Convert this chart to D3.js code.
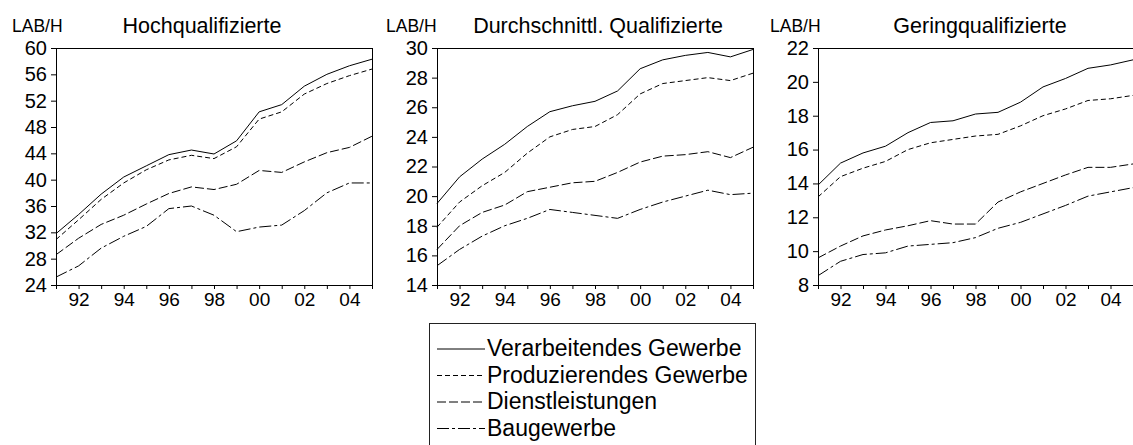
<!DOCTYPE html>
<html><head><meta charset="utf-8">
<script src="https://cdn.jsdelivr.net/npm/d3@7"></script>
<style>
body{margin:0;background:#fff}
svg{display:block}
text{font-family:"Liberation Sans",Arial,sans-serif;fill:#000}
</style>
</head><body>
<svg id="chart" width="1133" height="445"></svg>
<script>
// ---------- data ----------
const years = [1991,1992,1993,1994,1995,1996,1997,1998,1999,2000,2001,2002,2003,2004,2005];
const xTickLabels = {1992:"92",1994:"94",1996:"96",1998:"98",2000:"00",2002:"02",2004:"04"};
const seriesNames = ["Verarbeitendes Gewerbe","Produzierendes Gewerbe","Dienstleistungen","Baugewerbe"];
const panelTitles = ["Hochqualifizierte","Durchschnittl. Qualifizierte","Geringqualifizierte"];
const yAxisLabel = "LAB/H";

const hochVerarbeitend = [31.8,34.7,37.8,40.4,42.1,43.8,44.5,43.9,45.9,50.3,51.4,54.2,56.0,57.3,58.3];
const hochProduzierend = [30.9,33.9,37.0,39.5,41.5,43.0,43.7,43.2,45.0,49.2,50.3,53.0,54.6,55.8,56.8];
const hochDienst       = [28.6,31.1,33.2,34.6,36.3,37.9,38.9,38.5,39.3,41.4,41.1,42.7,44.1,44.9,46.6];
const hochBau          = [25.2,26.9,29.6,31.4,32.9,35.6,36.0,34.6,32.1,32.8,33.1,35.3,38.0,39.5,39.5];

const mittelVerarbeitend = [19.5,21.3,22.5,23.5,24.7,25.7,26.1,26.4,27.1,28.6,29.2,29.5,29.7,29.4,29.9];
const mittelProduzierend = [17.9,19.6,20.7,21.6,22.9,24.0,24.5,24.7,25.5,26.9,27.6,27.8,28.0,27.8,28.3];
const mittelDienst       = [16.4,18.0,18.9,19.4,20.3,20.6,20.9,21.0,21.6,22.3,22.7,22.8,23.0,22.6,23.3];
const mittelBau          = [15.3,16.4,17.3,18.0,18.5,19.1,18.9,18.7,18.5,19.1,19.6,20.0,20.4,20.1,20.2];

const geringVerarbeitend = [13.9,15.2,15.8,16.2,17.0,17.6,17.7,18.1,18.2,18.8,19.7,20.2,20.8,21.0,21.3];
const geringProduzierend = [13.2,14.4,14.9,15.3,16.0,16.4,16.6,16.8,16.9,17.4,18.0,18.4,18.9,19.0,19.2];
const geringDienst       = [9.6,10.3,10.9,11.25,11.5,11.8,11.6,11.6,12.9,13.5,14.0,14.5,14.95,14.95,15.15];
const geringBau          = [8.55,9.4,9.8,9.9,10.3,10.4,10.5,10.8,11.35,11.7,12.2,12.7,13.25,13.5,13.75];

const hochTicks   = [24,28,32,36,40,44,48,52,56,60];
const mittelTicks = [14,16,18,20,22,24,26,28,30];
const geringTicks = [8,10,12,14,16,18,20,22];

// ---------- layout / style ----------
const dashes = [null, "5,3", "9,3", "12,3,3,3"];
const panels = [
  {title: panelTitles[0], series:[hochVerarbeitend,hochProduzierend,hochDienst,hochBau], ticks:hochTicks,
   left:56, right:372, titleX:202, labX:12},
  {title: panelTitles[1], series:[mittelVerarbeitend,mittelProduzierend,mittelDienst,mittelBau], ticks:mittelTicks,
   left:437, right:753, titleX:598, labX:386},
  {title: panelTitles[2], series:[geringVerarbeitend,geringProduzierend,geringDienst,geringBau], ticks:geringTicks,
   left:818, right:1133, titleX:980, labX:770}
];
const plotTop = 48, plotBottom = 285;
const FONT = '"Liberation Sans",Arial,sans-serif';

const svg = d3.select("#chart");
svg.append("rect").attr("width",1133).attr("height",445).attr("fill","#fff");

panels.forEach(p => {
  const x = d3.scaleLinear().domain([years[0], years[years.length-1]]).range([p.left, p.right]);
  const y = d3.scaleLinear().domain([p.ticks[0], p.ticks[p.ticks.length-1]]).range([plotBottom, plotTop]);
  const g = svg.append("g");

  const xAxis = d3.axisBottom(x).tickValues(years).tickSize(4).tickPadding(4)
    .tickFormat(d => xTickLabels[d] || "");
  const gx = g.append("g").attr("transform",`translate(0,${plotBottom})`).call(xAxis);
  gx.select(".domain").remove();
  gx.selectAll("text").attr("font-size",19).style("font-family",FONT).attr("fill","#000");
  gx.selectAll("line").attr("stroke","#000");

  const yAxis = d3.axisLeft(y).tickValues(p.ticks).tickSize(5).tickPadding(4).tickFormat(d3.format("d"));
  const gy = g.append("g").attr("transform",`translate(${p.left},0)`).call(yAxis);
  gy.select(".domain").remove();
  gy.selectAll("text").attr("font-size",20).style("font-family",FONT).attr("fill","#000");
  gy.selectAll("line").attr("stroke","#000");

  const line = d3.line().x((d,i)=>x(years[i])).y(d=>y(d));
  p.series.forEach((s,k) => {
    g.append("path").datum(s).attr("d",line).attr("fill","none").attr("stroke","#000")
      .attr("stroke-width",1).attr("stroke-dasharray",dashes[k]);
  });

  g.append("rect").attr("x",p.left+0.5).attr("y",plotTop+0.5)
    .attr("width",p.right-p.left).attr("height",plotBottom-plotTop)
    .attr("fill","none").attr("stroke","#000").attr("stroke-width",1);

  g.append("text").attr("x",p.titleX).attr("y",33).attr("text-anchor","middle")
    .attr("font-size",21.5).text(p.title);
  g.append("text").attr("x",p.labX).attr("y",32).attr("font-size",17.5).text(yAxisLabel);
});

// ---------- legend ----------
const lg = svg.append("g");
lg.append("rect").attr("x",429.5).attr("y",323.5).attr("width",326).attr("height",140)
  .attr("fill","#fff").attr("stroke","#222").attr("stroke-width",1);
seriesNames.forEach((name,k) => {
  const base = 356 + k*26.5;
  lg.append("line").attr("x1",437).attr("x2",485).attr("y1",base-7).attr("y2",base-7)
    .attr("stroke","#000").attr("stroke-width",1).attr("stroke-dasharray",dashes[k]);
  lg.append("text").attr("x",487).attr("y",base).attr("font-size",23).text(name);
});
</script>
</body></html>
